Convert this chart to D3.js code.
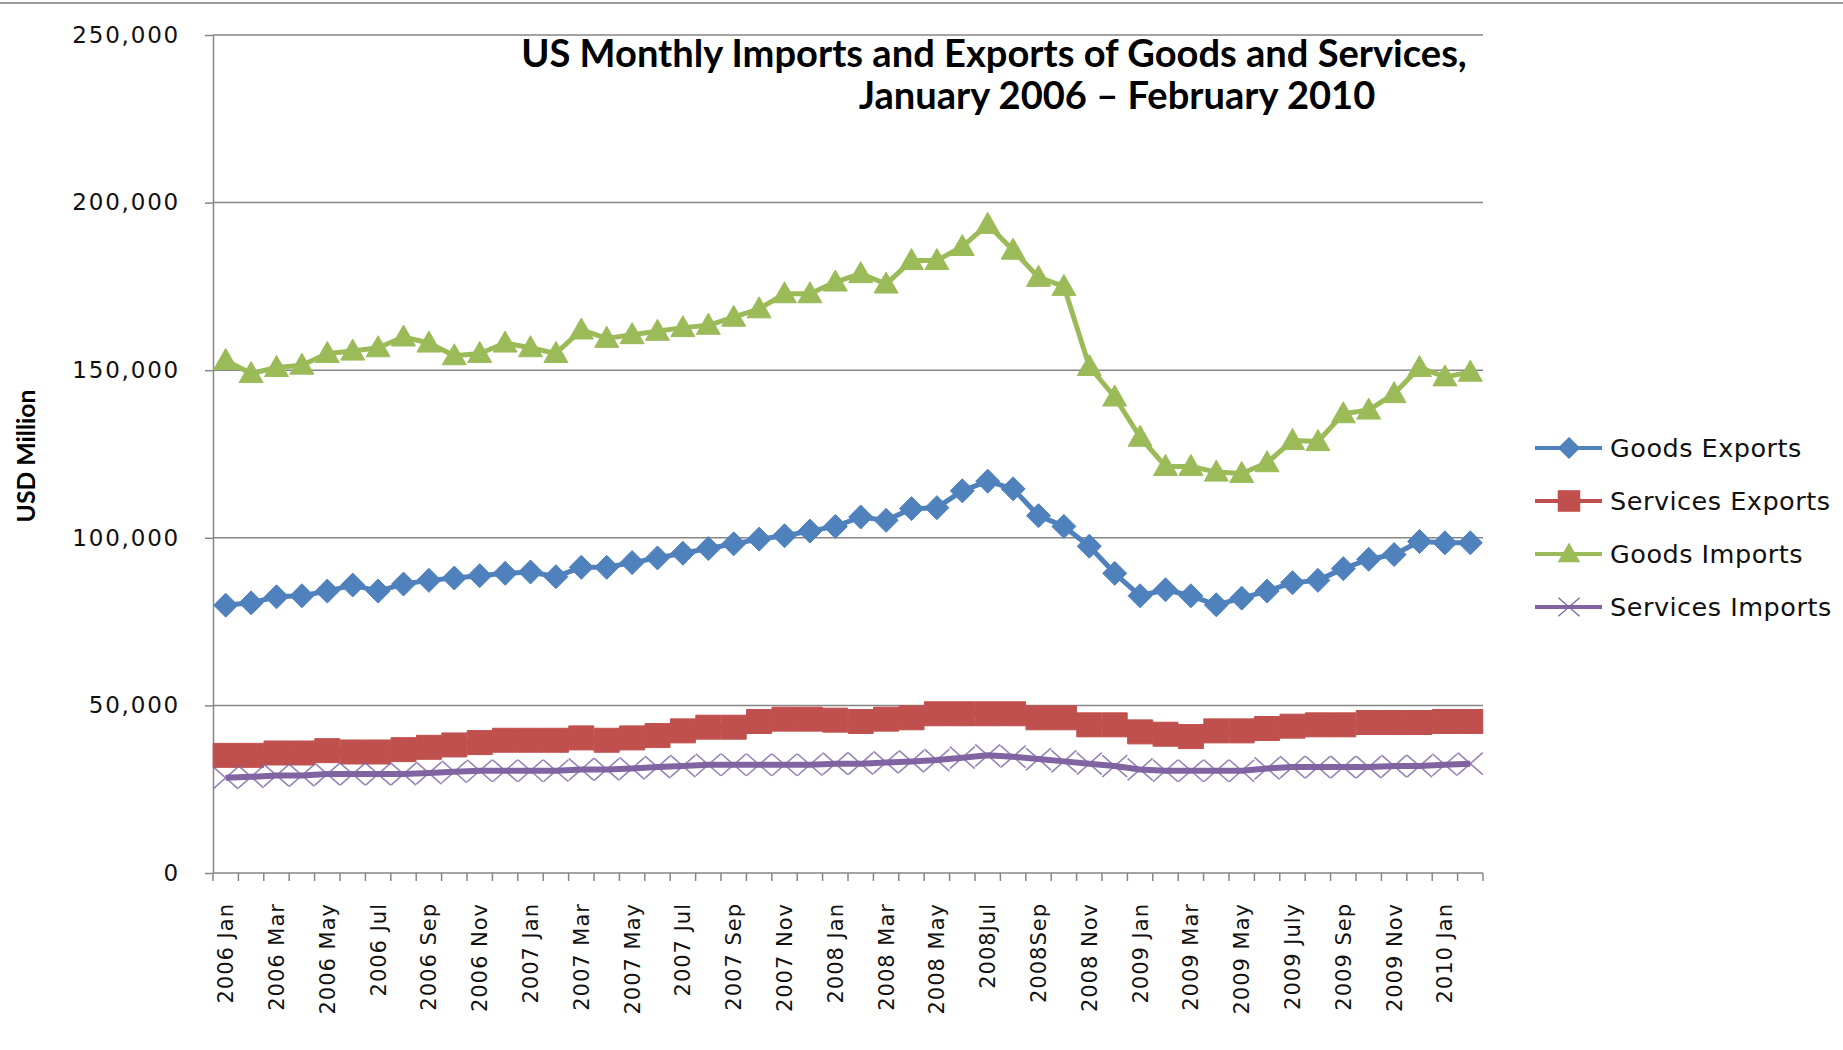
<!DOCTYPE html>
<html>
<head>
<meta charset="utf-8">
<script src="https://cdn.jsdelivr.net/npm/d3@7"></script>
<style>
  body { margin: 0; background: #fff; }
</style>
</head>
<body>
<svg id="chart" width="1843" height="1050"></svg>
<script>
// months, Jan 2006 .. Feb 2010
const categories = [
  "2006-01","2006-02","2006-03","2006-04","2006-05","2006-06","2006-07","2006-08","2006-09","2006-10","2006-11","2006-12",
  "2007-01","2007-02","2007-03","2007-04","2007-05","2007-06","2007-07","2007-08","2007-09","2007-10","2007-11","2007-12",
  "2008-01","2008-02","2008-03","2008-04","2008-05","2008-06","2008-07","2008-08","2008-09","2008-10","2008-11","2008-12",
  "2009-01","2009-02","2009-03","2009-04","2009-05","2009-06","2009-07","2009-08","2009-09","2009-10","2009-11","2009-12",
  "2010-01","2010-02"
];

// every second month gets a label
const tickLabels = [
  "2006 Jan","2006 Mar","2006 May","2006 Jul","2006 Sep","2006 Nov",
  "2007 Jan","2007 Mar","2007 May","2007 Jul","2007 Sep","2007 Nov",
  "2008 Jan","2008 Mar","2008 May","2008Jul","2008Sep","2008 Nov",
  "2009 Jan","2009 Mar","2009 May","2009 July","2009 Sep","2009 Nov",
  "2010 Jan"
];

const yTicks = [0, 50000, 100000, 150000, 200000, 250000];

const goodsExports = [
  79900, 80600, 82400, 82700, 84100, 85900, 84100, 86200, 87300, 88000, 88700, 89400,
  89800, 88400, 91200, 91200, 92600, 94000, 95400, 96800, 98200, 99600, 100600, 102000,
  103400, 106200, 105200, 108700, 109000, 114000, 116900, 114600, 106600, 103400, 97500, 89400,
  82700, 84500, 82700, 80000, 82000, 84100, 86600, 87300, 90800, 93600, 95000, 98900,
  98500, 98500
];

const servicesExports = [
  35100, 35100, 35800, 35800, 36500, 36100, 36100, 36800, 37500, 38200, 38900, 39600,
  39600, 39600, 40300, 39600, 40300, 41000, 42400, 43500, 43500, 45200, 45900, 45900,
  45600, 45200, 45900, 46300, 47500, 47500, 47500, 47500, 46300, 46300, 44200, 44200,
  42100, 41400, 40700, 42400, 42400, 43100, 43800, 44200, 44200, 44900, 44900, 44900,
  45200, 45200
];

const goodsImports = [
  152900, 149000, 150800, 151500, 155000, 155700, 156700, 159900, 158100, 154300, 155000, 158100,
  156700, 155000, 162000, 159500, 160600, 161600, 162700, 163400, 165800, 168300, 172800, 172800,
  176300, 178800, 175700, 182700, 182700, 186900, 193500, 185800, 177700, 175000, 151100, 142000,
  130000, 121300, 121300, 119600, 119200, 122400, 129000, 128700, 137000, 138100, 143000, 150800,
  148000, 149400
];

const servicesImports = [
  28400, 28700, 29100, 29100, 29500, 29500, 29500, 29500, 29800, 30200, 30500, 30500,
  30500, 30500, 30900, 30900, 31200, 31600, 31900, 32300, 32300, 32300, 32300, 32300,
  32600, 32600, 33000, 33300, 33700, 34400, 35100, 34700, 34000, 33300, 32600, 31900,
  30900, 30500, 30500, 30500, 30500, 31200, 31600, 31600, 31600, 31600, 31900, 31900,
  32300, 32600
];

const seriesNames = ["Goods Exports", "Services Exports", "Goods Imports", "Services Imports"];
const seriesColors = ["#4F81BD", "#C0504D", "#9BBB59", "#8064A2"];
const seriesValues = [goodsExports, servicesExports, goodsImports, servicesImports];
const seriesMarkers = ["diamond", "square", "triangle", "cross"];

const svg = d3.select("#chart");
const plotLeft = 213, plotRight = 1483, plotTop = 35, plotBottom = 873;
const gray = "#868686";

const x = d3.scaleBand().domain(categories).range([plotLeft, plotRight]);
const y = d3.scaleLinear().domain([0, 250000]).range([plotBottom, plotTop]);
const bw = x.bandwidth();
const cx = c => x(c) + bw / 2;

// scale a text's font size so it is w pixels long
function fit(sel, w) {
  const fs = parseFloat(sel.attr("font-size"));
  const len = sel.node().getComputedTextLength();
  sel.attr("font-size", (fs * w / len).toFixed(2));
}

// outer border line at the top
svg.append("line")
  .attr("x1", 0).attr("x2", 1843).attr("y1", 3).attr("y2", 3)
  .attr("stroke", "#9a9a9a").attr("stroke-width", 2);

// gridlines
svg.append("g").selectAll("line")
  .data(yTicks.filter(d => d > 0))
  .enter().append("line")
  .attr("x1", plotLeft).attr("x2", plotRight)
  .attr("y1", d => y(d)).attr("y2", d => y(d))
  .attr("stroke", gray).attr("stroke-width", 1.5);

// y axis
const yAxis = svg.append("g")
  .attr("transform", `translate(${plotLeft},0)`)
  .call(d3.axisLeft(y).tickValues(yTicks).tickSize(8).tickSizeOuter(0).tickPadding(25).tickFormat(d3.format(",")));
yAxis.select(".domain").attr("stroke", gray).attr("stroke-width", 1.5);
yAxis.selectAll(".tick line").attr("stroke", gray).attr("stroke-width", 1.5);
yAxis.selectAll(".tick text")
  .attr("font-family", "'DejaVu Sans', Verdana, sans-serif")
  .attr("font-size", 23)
  .attr("letter-spacing", 1.8)
  .attr("fill", "#111");

// x axis line and the ticks between months
svg.append("line")
  .attr("x1", plotLeft).attr("x2", plotRight).attr("y1", plotBottom).attr("y2", plotBottom)
  .attr("stroke", gray).attr("stroke-width", 1.5);
svg.append("g").selectAll("line")
  .data(categories.map(c => x(c)).concat([plotRight]))
  .enter().append("line")
  .attr("x1", d => d).attr("x2", d => d)
  .attr("y1", plotBottom).attr("y2", plotBottom + 8)
  .attr("stroke", gray).attr("stroke-width", 1.5);

// x labels, rotated
svg.append("g").selectAll("text")
  .data(tickLabels)
  .enter().append("text")
  .attr("transform", (d, i) => `translate(${cx(categories[i * 2])},903) rotate(-90)`)
  .attr("text-anchor", "end")
  .attr("dy", "0.36em")
  .attr("font-family", "'DejaVu Sans', Verdana, sans-serif")
  .attr("font-size", 21)
  .attr("letter-spacing", 1)
  .attr("fill", "#111")
  .text(d => d);

// y axis title
const yTitle = svg.append("text")
  .attr("transform", "translate(35,456) rotate(-90)")
  .attr("text-anchor", "middle")
  .attr("font-family", "Lato, sans-serif")
  .attr("font-weight", "bold")
  .attr("font-size", 22)
  .attr("fill", "#000")
  .text("USD Million");
fit(yTitle, 133);

// chart title
const t1 = svg.append("text")
  .attr("x", 994).attr("y", 67)
  .attr("text-anchor", "middle")
  .attr("font-family", "Lato, sans-serif")
  .attr("font-weight", "bold")
  .attr("font-size", 30)
  .attr("fill", "#000")
  .text("US Monthly Imports and Exports of Goods and Services,");
fit(t1, 946);
const t2 = svg.append("text")
  .attr("x", 1117).attr("y", 109)
  .attr("text-anchor", "middle")
  .attr("font-family", "Lato, sans-serif")
  .attr("font-weight", "bold")
  .attr("font-size", t1.attr("font-size"))
  .attr("fill", "#000")
  .text("January 2006 \u2013 February 2010");

// marker shapes
function markerPath(kind) {
  if (kind === "diamond") return "M0,-12L12,0L0,12L-12,0Z";
  if (kind === "square") return "M-12.5,-12L12.5,-12L12.5,12L-12.5,12Z";
  if (kind === "triangle") return "M0,-12L12,9L-12,9Z";
  return "M-12.5,-11L12.5,11M-12.5,11L12.5,-11";
}

const line = d3.line()
  .x((d, i) => cx(categories[i]))
  .y(d => y(d));

seriesValues.forEach((vals, k) => {
  const g = svg.append("g");
  const color = seriesColors[k];
  const kind = seriesMarkers[k];
  g.append("path")
    .attr("d", line(vals))
    .attr("fill", "none")
    .attr("stroke", color)
    .attr("stroke-width", kind === "cross" ? 6 : 5)
    .attr("stroke-linejoin", "round");
  g.selectAll("path.m")
    .data(vals)
    .enter().append("path")
    .attr("class", "m")
    .attr("transform", (d, i) => `translate(${cx(categories[i])},${y(d)})`)
    .attr("d", markerPath(kind))
    .attr("fill", kind === "cross" ? "none" : color)
    .attr("stroke", color)
    .attr("stroke-opacity", kind === "cross" ? 0.8 : 1)
    .attr("stroke-width", kind === "cross" ? 1.6 : 1);
});

// legend
const legend = svg.append("g");
const legendY = [448, 501, 554, 607];
seriesNames.forEach((name, k) => {
  const g = legend.append("g").attr("transform", `translate(0,${legendY[k]})`);
  g.append("line")
    .attr("x1", 1535).attr("x2", 1602)
    .attr("stroke", seriesColors[k]).attr("stroke-width", 4);
  g.append("path")
    .attr("transform", "translate(1569,0) scale(0.85)")
    .attr("d", markerPath(seriesMarkers[k]))
    .attr("fill", seriesMarkers[k] === "cross" ? "none" : seriesColors[k])
    .attr("stroke", seriesColors[k])
    .attr("stroke-width", 1.5);
  g.append("text")
    .attr("class", "lt")
    .attr("x", 1610).attr("dy", "0.36em")
    .attr("font-family", "'DejaVu Sans', Verdana, sans-serif")
    .attr("font-size", 20)
    .attr("letter-spacing", 0.5)
    .attr("fill", "#111")
    .text(name);
});
const lastLabel = legend.selectAll("text.lt").filter((d, i) => i === 3);
fit(lastLabel, 224);
legend.selectAll("text.lt").attr("font-size", lastLabel.attr("font-size"));
</script>
</body>
</html>
